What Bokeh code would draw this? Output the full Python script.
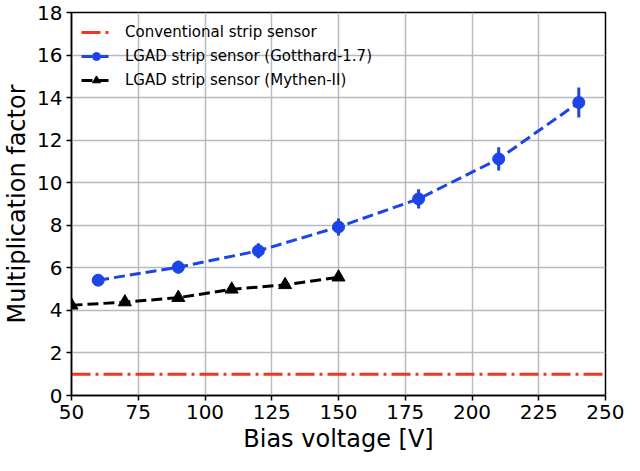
from bokeh.plotting import figure
from bokeh.models import Range1d, FixedTicker, Legend, LegendItem
from bokeh.embed import file_html
from bokeh.resources import INLINE

# ---- data ----
x_ticks = [50, 75, 100, 125, 150, 175, 200, 225, 250]
y_ticks = [0, 2, 4, 6, 8, 10, 12, 14, 16, 18]
x_limits = [50, 250]
y_limits = [0, 18]

conventional_factor = 1.0

gotthard_v = [60, 90, 120, 150, 180, 210, 240]
gotthard_m = [5.42, 6.03, 6.80, 7.92, 9.24, 11.12, 13.77]
gotthard_err = [0.20, 0.30, 0.35, 0.40, 0.45, 0.55, 0.70]

mythen_v = [50, 70, 90, 110, 130, 150]
mythen_m = [4.24, 4.39, 4.60, 4.99, 5.20, 5.56]

labels = ["Conventional strip sensor",
          "LGAD strip sensor (Gotthard-1.7)",
          "LGAD strip sensor (Mythen-II)"]

FONT = "DejaVu Sans"
BLUE = "#1c44e6"
RED = "#f2351c"
BLACK = "#000000"
GRID = "#b4bcc2"

p = figure(width=624, height=455, output_backend="svg", toolbar_location=None,
           x_range=Range1d(x_limits[0], x_limits[1]),
           y_range=Range1d(y_limits[0], y_limits[1]),
           min_border_left=58, min_border_right=19, min_border_top=12,
           min_border_bottom=50)

p.background_fill_color = "white"
p.border_fill_color = "white"
p.outline_line_color = "black"
p.outline_line_width = 1.5

for ax, ticks in ((p.xaxis[0], x_ticks), (p.yaxis[0], y_ticks)):
    ax.ticker = FixedTicker(ticks=ticks)
    ax.major_label_text_font = FONT
    ax.major_label_text_font_size = "20px"
    ax.major_label_text_color = "black"
    ax.axis_label_text_font = FONT
    ax.axis_label_text_font_size = "24px"
    ax.axis_label_text_font_style = "normal"
    ax.axis_label_text_color = "black"
    ax.axis_line_color = "black"
    ax.axis_line_width = 1.5
    ax.major_tick_line_color = "black"
    ax.major_tick_line_width = 1.5
    ax.major_tick_out = 5
    ax.major_tick_in = 0
    ax.minor_tick_line_color = None
    ax.major_label_standoff = 4
    ax.axis_label_standoff = 3

p.xaxis.axis_label = "Bias voltage [V]"
p.yaxis.axis_label = "Multiplication factor"

for g, ticks in ((p.xgrid[0], x_ticks), (p.ygrid[0], y_ticks)):
    g.ticker = FixedTicker(ticks=ticks)
    g.grid_line_color = GRID
    g.grid_line_width = 1.5

# conventional
r_conv = p.line(x=x_limits, y=[conventional_factor, conventional_factor],
                line_color=RED, line_width=3, line_dash="19 5 3 5")

# gotthard
lo = [m - e for m, e in zip(gotthard_m, gotthard_err)]
hi = [m + e for m, e in zip(gotthard_m, gotthard_err)]
p.segment(x0=gotthard_v, y0=lo, x1=gotthard_v, y1=hi,
          line_color=BLUE, line_width=3)
r_g_line = p.line(x=gotthard_v, y=gotthard_m, line_color=BLUE,
                  line_width=3, line_dash="11 5")
r_g_pts = p.scatter(x=gotthard_v, y=gotthard_m, marker="circle", size=12,
                    fill_color=BLUE, line_color=BLUE)

# mythen
r_m_line = p.line(x=mythen_v, y=mythen_m, line_color=BLACK,
                  line_width=3, line_dash="11 5")
r_m_pts = p.scatter(x=mythen_v, y=mythen_m, marker="triangle", size=13,
                    fill_color=BLACK, line_color=BLACK)

legend = Legend(items=[
    LegendItem(label=labels[0], renderers=[r_conv]),
    LegendItem(label=labels[1], renderers=[r_g_line, r_g_pts]),
    LegendItem(label=labels[2], renderers=[r_m_line, r_m_pts]),
], location="top_left")
legend.label_text_font = FONT
legend.label_text_font_size = "15px"
legend.label_text_color = "black"
legend.background_fill_alpha = 0
legend.border_line_alpha = 0
legend.glyph_width = 30
legend.glyph_height = 20
legend.label_height = 20
legend.spacing = 4
legend.label_standoff = 14
legend.margin = 2
legend.padding = 8
p.add_layout(legend)

open("out.html", "w").write(file_html(p, INLINE))
